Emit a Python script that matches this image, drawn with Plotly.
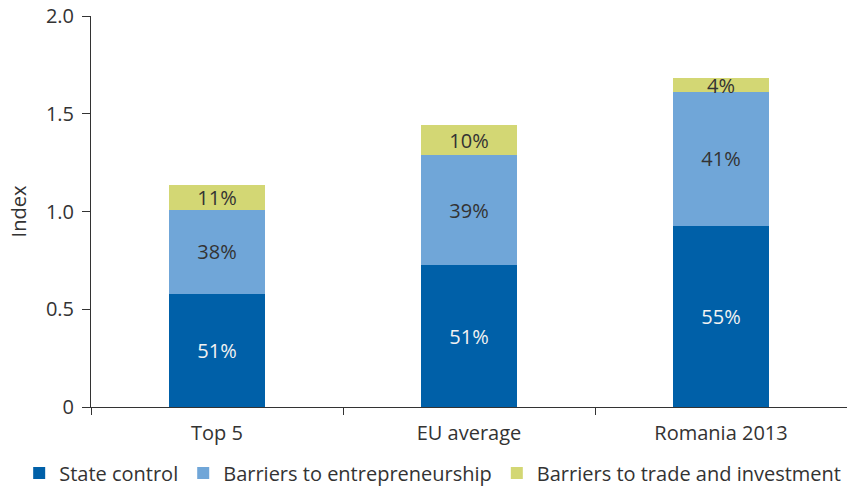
import plotly.graph_objects as go

categories = ["Top 5", "EU average", "Romania 2013"]
state_control = [0.578, 0.726, 0.927]
entrepreneurship = [0.430, 0.563, 0.684]
trade_investment = [0.128, 0.153, 0.072]
state_labels = ["51%", "51%", "55%"]
entre_labels = ["38%", "39%", "41%"]
trade_labels = ["11%", "10%", "4%"]
y_tickvals = [0, 0.5, 1.0, 1.5, 2.0]
y_ticktext = ["0", "0.5", "1.0", "1.5", "2.0"]

FONT = "Open Sans"
DARK = "#333333"
FS = 20

fig = go.Figure()
series = [
    ("State control", state_control, state_labels, "#0060A8", "#F2F2F2"),
    ("Barriers to entrepreneurship", entrepreneurship, entre_labels, "#70A6D8", DARK),
    ("Barriers to trade and investment", trade_investment, trade_labels, "#D3D774", DARK),
]
for name, vals, labels, color, tcolor in series:
    fig.add_trace(go.Bar(
        name=name, x=categories, y=vals, text=labels,
        textposition="inside", insidetextanchor="middle", textangle=0,
        constraintext="none",
        textfont=dict(family=FONT, size=FS, color=tcolor),
        marker=dict(color=color, line=dict(width=0)),
        width=0.38,
    ))

fig.update_layout(
    barmode="stack",
    width=847, height=487,
    margin=dict(l=91, r=0, t=16, b=80, autoexpand=False),
    paper_bgcolor="white", plot_bgcolor="white",
    font=dict(family=FONT, size=FS, color=DARK),
    showlegend=True,
    legend=dict(orientation="h", x=-0.095, xanchor="left", y=-0.169, yanchor="middle",
                font=dict(family=FONT, size=FS, color=DARK), traceorder="normal",
                itemwidth=30, tracegroupgap=0, bgcolor="rgba(0,0,0,0)"),
)
fig.update_xaxes(
    showline=True, linecolor=DARK, linewidth=1,
    ticks="outside", tickson="boundaries", ticklen=7, tickcolor=DARK,
    showgrid=False, tickfont=dict(family=FONT, size=FS, color=DARK),
    ticklabelstandoff=8,
)
fig.update_yaxes(
    range=[0, 2.0], tickvals=y_tickvals, ticktext=y_ticktext,
    showline=True, linecolor=DARK, linewidth=1,
    ticks="outside", ticklen=8, tickcolor=DARK,
    showgrid=False, zeroline=False,
    tickfont=dict(family=FONT, size=FS, color=DARK),
    title=dict(text="Index", font=dict(family=FONT, size=FS, color=DARK), standoff=13),
    ticklabelstandoff=4, ticklabeloverflow="allow",
)

fig.write_html("out.html", config={"displayModeBar": False},
               post_script="document.body.style.margin='0';")
